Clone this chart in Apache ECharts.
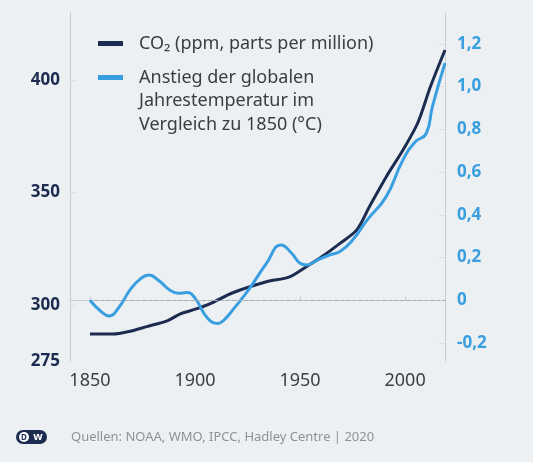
<!DOCTYPE html>
<html><head><meta charset="utf-8">
<script src="https://cdn.jsdelivr.net/npm/echarts@6/dist/echarts.min.js"></script>
<style>html,body{margin:0;padding:0;background:#edf0f3;}#c{width:533px;height:462px;}</style>
</head><body><div id="c"></div>
<script>
const co2Years  = [1850, 1861, 1868, 1877, 1887, 1893, 1901, 1907, 1918, 1934, 1945, 1953, 1960, 1969, 1977, 1983, 1991, 1999, 2006, 2012, 2019];
const co2Values = [287, 287, 288, 290.3, 293, 296, 298.3, 300.4, 305.4, 310.3, 312.5, 317, 321.2, 327.4, 333.4, 343.7, 357, 369, 381, 397, 413.5];
const tempYears  = [1850, 1855, 1859, 1864, 1869, 1874, 1878, 1883, 1888, 1892, 1896, 1900, 1906, 1911, 1914, 1918, 1926, 1934, 1941, 1946, 1950, 1953, 1959, 1964, 1969, 1975, 1982, 1991, 1999, 2005, 2010, 2013, 2019];
const tempValues = [0.0, -0.05, -0.073, -0.03, 0.048, 0.10, 0.118, 0.09, 0.048, 0.033, 0.036, 0.01, -0.084, -0.108, -0.09, -0.045, 0.056, 0.173, 0.259, 0.22, 0.173, 0.165, 0.192, 0.212, 0.228, 0.282, 0.376, 0.485, 0.657, 0.743, 0.779, 0.906, 1.11];
const xTicks = [1850, 1900, 1950, 2000];
const co2Labels = [275, 300, 350, 400];
const co2TickMarks = [300, 350, 400];
const tempTicks = [-0.2, 0, 0.2, 0.4, 0.6, 0.8, 1.0, 1.2];
const legendCO2 = 'CO₂ (ppm, parts per million)';
const legendTemp = 'Anstieg der globalen\nJahrestemperatur im\nVergleich zu 1850 (°C)';
const sourceText = 'Quellen: NOAA, WMO, IPCC, Hadley Centre | 2020';

const NAVY = '#1c2b50', BLUE = '#3a9fe0', AXIS = '#c6ccd3';
const FONT = 'Noto Sans';
const chart = echarts.init(document.getElementById('c'));
chart.setOption({
  backgroundColor: '#edf0f3',
  animation: false,
  grid: { left: 70, right: 88, top: 13, bottom: 101 },
  xAxis: {
    type: 'value', min: 1840.5, max: 2019,
    axisLine: { show: true, lineStyle: { color: AXIS } },
    axisTick: { show: true, inside: true, length: 4, customValues: xTicks, lineStyle: { color: AXIS } },
    axisLabel: { customValues: xTicks, margin: 11, fontSize: 18, color: '#3b3f45', fontFamily: FONT, formatter: v => String(Math.round(v)) },
    splitLine: { show: false }
  },
  yAxis: [{
    type: 'value', position: 'left', min: 275, max: 430,
    axisLine: { show: true, lineStyle: { color: AXIS } },
    axisTick: { show: true, inside: true, length: 6, customValues: co2TickMarks, lineStyle: { color: '#dde1e6' } },
    axisLabel: { customValues: co2Labels, margin: 10, fontSize: 17, fontWeight: 'bold', color: NAVY, fontFamily: FONT, formatter: v => String(Math.round(v)) },
    splitLine: { show: false }
  }, {
    type: 'value', position: 'right', min: -0.284, max: 1.344,
    axisLine: { show: true, lineStyle: { color: AXIS } },
    axisTick: { show: true, inside: true, length: 6, customValues: tempTicks, lineStyle: { color: '#dde1e6' } },
    axisLabel: {
      customValues: tempTicks, margin: 12, fontSize: 17, fontWeight: 'bold', color: BLUE, fontFamily: FONT,
      formatter: v => Math.abs(v) < 1e-9 ? '0' : v.toFixed(1).replace('.', ',')
    },
    splitLine: { show: false }
  }],
  series: [{
    name: legendCO2, type: 'line', yAxisIndex: 0,
    data: co2Years.map((y, i) => [y, co2Values[i]]),
    showSymbol: false, smooth: 0.3,
    lineStyle: { width: 3, color: NAVY }, itemStyle: { color: NAVY }
  }, {
    name: legendTemp, type: 'line', yAxisIndex: 1,
    data: tempYears.map((y, i) => [y, tempValues[i]]),
    showSymbol: false, smooth: 0.5,
    lineStyle: { width: 3, color: BLUE }, itemStyle: { color: BLUE },
    markLine: {
      silent: true, symbol: 'none', label: { show: false },
      lineStyle: { type: 'dashed', color: '#a7adb4', width: 1 },
      data: [[{ coord: [1852, 0] }, { coord: [2019, 0] }]]
    }
  }],
  graphic: [
    { type: 'rect', shape: { x: 98, y: 41, width: 25, height: 5 }, style: { fill: NAVY } },
    { type: 'text', x: 139, y: 44, style: { text: legendCO2, fontSize: 18, fontFamily: FONT, fill: '#3a3d42', verticalAlign: 'middle' } },
    { type: 'rect', shape: { x: 98, y: 75, width: 25, height: 5 }, style: { fill: BLUE } },
    { type: 'text', x: 139, y: 66, style: { text: legendTemp, fontSize: 18, lineHeight: 23.5, fontFamily: FONT, fill: '#3a3d42', verticalAlign: 'top' } },
    { type: 'text', x: 71, y: 437, style: { text: sourceText, fontSize: 13, fontFamily: FONT, fill: '#8c9299', verticalAlign: 'middle' } },
    { type: 'rect', shape: { x: 16, y: 430, width: 31, height: 14, r: 7 }, style: { fill: NAVY } },
    { type: 'circle', shape: { cx: 24, cy: 437, r: 5 }, style: { fill: '#ffffff' } },
    { type: 'text', x: 24, y: 437.5, style: { text: 'D', fontSize: 8, fontWeight: 'bold', fontFamily: FONT, fill: NAVY, align: 'center', verticalAlign: 'middle' } },
    { type: 'text', x: 38, y: 437, style: { text: 'w', fontSize: 11, fontWeight: 'bold', fontFamily: FONT, fill: '#ffffff', align: 'center', verticalAlign: 'middle' } }
  ]
});
</script>
</body></html>
